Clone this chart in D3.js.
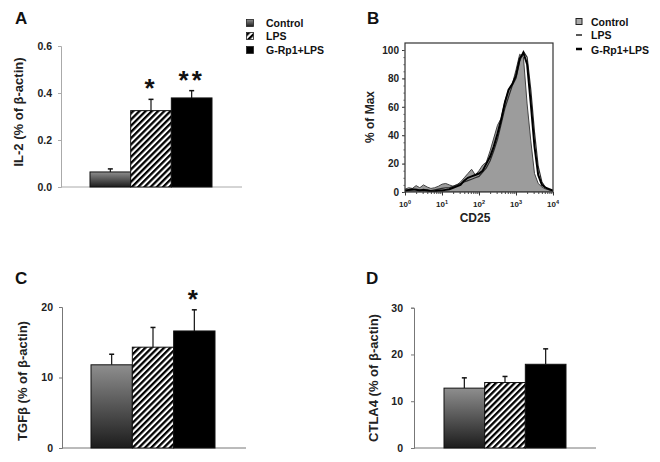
<!DOCTYPE html>
<html><head><meta charset="utf-8">
<script src="https://cdn.jsdelivr.net/npm/d3@7"></script>
<style>
body{margin:0;background:#fff;}
svg{display:block;font-family:"Liberation Sans",Arial,sans-serif;font-weight:bold;}
</style></head>
<body>
<svg id="chart" width="660" height="462"></svg>
<script>
// ---------- data ----------
const groups = ["Control", "LPS", "G-Rp1+LPS"];
const il2Mean = [0.064, 0.325, 0.379];
const il2Err  = [0.013, 0.048, 0.031];
const il2Sig  = ["", "*", "**"];
const il2Ticks = [0, 0.2, 0.4, 0.6];

const tgfMean = [11.8, 14.3, 16.6];
const tgfErr  = [1.5, 2.8, 3.0];
const tgfSig  = ["", "", "*"];
const tgfTicks = [0, 10, 20];

const ctlaMean = [12.8, 14.0, 17.9];
const ctlaErr  = [2.2, 1.3, 3.3];
const ctlaSig  = ["", "", ""];
const ctlaTicks = [0, 10, 20, 30];

// CD25 flow histogram (% of Max) on a shared CD25 channel grid
const cd25 = [1, 1.26, 1.58, 2, 2.51, 3.16, 3.98, 5.01, 6.31, 7.94,
  10, 12.6, 15.8, 20, 25.1, 31.6, 39.8, 50.1, 63.1, 79.4,
  100, 126, 158, 200, 251, 316, 398, 501, 631, 794,
  1000, 1259, 1585, 1995, 2512, 3162, 3981, 5012, 6310, 7943, 10000];
const histControl = [2, 3, 2.5, 4.5, 3, 5, 3.5, 2.5, 3, 4,
  5.5, 6, 5, 4, 5, 7, 10, 13, 16, 12,
  15, 19, 21, 29, 38, 47, 52, 64, 72, 76,
  86, 97, 95, 62, 36, 13, 6, 3.5, 2, 1.5, 1];
const histLPS = [1, 1, 1.5, 2, 1.5, 1, 1.5, 1, 1.5, 2,
  2.5, 3, 3, 4, 5, 6, 7, 8, 9, 10,
  11, 14, 17, 22, 29, 37, 48, 59, 67, 75,
  80, 92, 99, 95, 72, 42, 18, 7, 3, 1.5, 1];
const histGRp1 = [1, 1.5, 2, 1.5, 1, 1.5, 1, 0.5, 0.5, 1,
  1, 1.5, 2, 3, 4, 5, 8, 10, 11, 12,
  13, 15, 20, 25, 32, 41, 51, 63, 72, 76,
  82, 94, 98, 90, 62, 32, 12, 5, 3, 2, 1];
const histYTicks = [0, 20, 40, 60, 80, 100];
const histXTicks = [1, 10, 100, 1000, 10000];
const histXExp = ["0", "1", "2", "3", "4"];

// ---------- setup ----------
const svg = d3.select("#chart");
const defs = svg.append("defs");
const grad = defs.append("linearGradient").attr("id", "gradCtrl")
  .attr("x1", 0).attr("y1", 0).attr("x2", 0).attr("y2", 1);
grad.append("stop").attr("offset", "0%").attr("stop-color", "#8e8e8e");
grad.append("stop").attr("offset", "100%").attr("stop-color", "#1c1c1c");
const hatch = defs.append("pattern").attr("id", "hatch")
  .attr("patternUnits", "userSpaceOnUse").attr("width", 4.4).attr("height", 4.4)
  .attr("patternTransform", "rotate(45)");
hatch.append("rect").attr("width", 4.4).attr("height", 4.4).attr("fill", "#fff");
hatch.append("rect").attr("width", 2.3).attr("height", 4.4).attr("fill", "#000");
const fills = ["url(#gradCtrl)", "url(#hatch)", "#000"];

function barPanel(o) {
  const g = svg.append("g");
  const y = d3.scaleLinear().domain(o.domain).range([o.y0, o.y1]);
  const x = d3.scaleBand().domain(groups).range(o.barRange).paddingInner(0);
  // axes
  const ax = g.append("g").attr("transform", `translate(${o.axX},0)`)
    .call(d3.axisLeft(y).tickValues(o.ticks).tickSize(3).tickPadding(o.pad)
      .tickFormat(o.fmt));
  ax.select(".domain").attr("stroke", o.axColor);
  ax.selectAll(".tick line").attr("stroke", o.axColor);
  ax.selectAll(".tick text").attr("font-size", 10.5).attr("fill", "#222")
    .attr("font-family", "Liberation Sans, Arial, sans-serif").attr("font-weight", "bold");
  g.append("line").attr("x1", o.axX).attr("x2", o.axXEnd)
    .attr("y1", y(0)).attr("y2", y(0)).attr("stroke", o.axColor);
  // error bars
  groups.forEach((k, i) => {
    const cx = x(k) + x.bandwidth() / 2;
    g.append("line").attr("x1", cx).attr("x2", cx)
      .attr("y1", y(o.mean[i])).attr("y2", y(o.mean[i] + o.err[i]))
      .attr("stroke", "#111").attr("stroke-width", 1.2);
    g.append("line").attr("x1", cx - 2.5).attr("x2", cx + 2.5)
      .attr("y1", y(o.mean[i] + o.err[i])).attr("y2", y(o.mean[i] + o.err[i]))
      .attr("stroke", "#111").attr("stroke-width", 1.5);
  });
  // bars
  g.selectAll("rect.bar").data(groups).join("rect").attr("class", "bar")
    .attr("x", k => x(k)).attr("width", x.bandwidth())
    .attr("y", (k, i) => y(o.mean[i]))
    .attr("height", (k, i) => y(0) - y(o.mean[i]))
    .attr("fill", (k, i) => fills[i])
    .attr("stroke", "#111").attr("stroke-width", 1);
  // significance
  groups.forEach((k, i) => {
    if (!o.sig[i]) return;
    g.append("text").attr("x", x(k) + x.bandwidth() / 2)
      .attr("y", y(o.mean[i] + o.err[i]) + o.starDy)
      .attr("text-anchor", "middle").attr("font-size", 26).attr("fill", "#111")
      .attr("letter-spacing", 3)
      .text(o.sig[i]);
  });
  // y title
  g.append("text").attr("transform", `translate(${o.titleX},${o.titleY}) rotate(-90)`)
    .attr("text-anchor", "middle").attr("font-size", 13).attr("fill", "#222")
    .text(o.title);
  // panel letter
  g.append("text").attr("x", o.letterX).attr("y", o.letterY)
    .attr("font-size", 17).attr("fill", "#111").text(o.letter);
}

barPanel({domain: [0, 0.6], y0: 187, y1: 46, barRange: [90, 212], axX: 61, axXEnd: 242,
  ticks: il2Ticks, fmt: d3.format(".1f"), pad: 6, axColor: "#aaa",
  mean: il2Mean, err: il2Err, sig: il2Sig, starDy: -2,
  title: "IL-2 (% of β-actin)", titleX: 23, titleY: 112, letter: "A", letterX: 15, letterY: 24});
barPanel({domain: [0, 20], y0: 448, y1: 307, barRange: [91, 215], axX: 62, axXEnd: 246,
  ticks: tgfTicks, fmt: d3.format("d"), pad: 6, axColor: "#777",
  mean: tgfMean, err: tgfErr, sig: tgfSig, starDy: -2,
  title: "TGFβ (% of β-actin)", titleX: 27, titleY: 381, letter: "C", letterX: 15, letterY: 284});
barPanel({domain: [0, 30], y0: 448, y1: 307.7, barRange: [444, 566], axX: 414, axXEnd: 596,
  ticks: ctlaTicks, fmt: d3.format("d"), pad: 8, axColor: "#777",
  mean: ctlaMean, err: ctlaErr, sig: ctlaSig, starDy: 0,
  title: "CTLA4 (% of β-actin)", titleX: 378, titleY: 378, letter: "D", letterX: 366, letterY: 284});

// legend A
const legA = svg.append("g");
groups.forEach((k, i) => {
  const yy = [19.5, 32.5, 46.5][i];
  legA.append("rect").attr("x", 246.5).attr("y", yy).attr("width", 7).attr("height", 7)
    .attr("fill", fills[i]).attr("stroke", "#222").attr("stroke-width", 0.8);
  legA.append("text").attr("x", 266).attr("y", yy + 7).attr("font-size", 10.5)
    .attr("fill", "#111").text(k);
});

// ---------- panel B: histogram ----------
const gB = svg.append("g");
const xB = d3.scaleLog().domain([1, 10000]).range([405, 553]);
const yB = d3.scaleLinear().domain([0, 100]).range([192, 50]);
const boxTop = 43;
gB.append("clipPath").attr("id", "clipB").append("rect")
  .attr("x", 405).attr("y", boxTop).attr("width", 148).attr("height", 192 - boxTop);
const plot = gB.append("g").attr("clip-path", "url(#clipB)");
const area = d3.area().x((d, i) => xB(cd25[i])).y0(yB(0)).y1(d => yB(d));
const line = d3.line().x((d, i) => xB(cd25[i])).y(d => yB(d));
plot.append("path").datum(histControl).attr("d", area)
  .attr("fill", "#9c9c9c").attr("stroke", "#444").attr("stroke-width", 1);
plot.append("path").datum(histLPS).attr("d", line)
  .attr("fill", "none").attr("stroke", "#2a2a2a").attr("stroke-width", 1.2);
plot.append("path").datum(histGRp1).attr("d", line)
  .attr("fill", "none").attr("stroke", "#000").attr("stroke-width", 2);
gB.append("rect").attr("x", 405).attr("y", boxTop).attr("width", 148)
  .attr("height", 192 - boxTop).attr("fill", "none").attr("stroke", "#333").attr("stroke-width", 1.2);
// x axis
const minorX = [];
[1, 10, 100, 1000].forEach(d => { for (let m = 2; m < 10; m++) minorX.push(d * m); });
const axBx = gB.append("g").attr("transform", "translate(0,192)")
  .call(d3.axisBottom(xB).tickValues(histXTicks).tickSize(3.5).tickPadding(4).tickFormat(() => ""));
axBx.select(".domain").remove();
axBx.selectAll(".tick line").attr("stroke", "#333");
const axBxm = gB.append("g").attr("transform", "translate(0,192)")
  .call(d3.axisBottom(xB).tickValues(minorX).tickSize(2).tickFormat(() => ""));
axBxm.select(".domain").remove();
axBxm.selectAll(".tick line").attr("stroke", "#444");
histXTicks.forEach((v, i) => {
  const t = gB.append("text").attr("x", xB(v)).attr("y", 207).attr("text-anchor", "middle")
    .attr("font-size", 8).attr("fill", "#222");
  t.append("tspan").text("10");
  t.append("tspan").attr("dy", -3).attr("font-size", 5.5).text(histXExp[i]);
});
// y axis
const axBy = gB.append("g").attr("transform", "translate(405,0)")
  .call(d3.axisLeft(yB).tickValues(histYTicks).tickSize(3).tickPadding(3).tickFormat(d3.format("d")));
axBy.select(".domain").remove();
axBy.selectAll(".tick line").attr("stroke", "#333");
axBy.selectAll(".tick text").attr("font-size", 10).attr("fill", "#222")
  .attr("font-family", "Liberation Sans, Arial, sans-serif").attr("font-weight", "bold");
const axBym = gB.append("g").attr("transform", "translate(405,0)")
  .call(d3.axisLeft(yB).tickValues(d3.range(0, 101, 5)).tickSize(1.5).tickFormat(() => ""));
axBym.select(".domain").remove();
axBym.selectAll(".tick line").attr("stroke", "#555");
gB.append("text").attr("transform", "translate(374,117) rotate(-90)").attr("text-anchor", "middle")
  .attr("font-size", 12).attr("fill", "#222").text("% of Max");
gB.append("text").attr("x", 475).attr("y", 222).attr("text-anchor", "middle")
  .attr("font-size", 12).attr("fill", "#222").text("CD25");
gB.append("text").attr("x", 367).attr("y", 24).attr("font-size", 17).attr("fill", "#111").text("B");
// legend B
const legB = svg.append("g");
legB.append("rect").attr("x", 576).attr("y", 18.5).attr("width", 6).attr("height", 6)
  .attr("fill", "#aaa").attr("stroke", "#222").attr("stroke-width", 1);
legB.append("line").attr("x1", 576).attr("x2", 582).attr("y1", 35).attr("y2", 35)
  .attr("stroke", "#222").attr("stroke-width", 1.5);
legB.append("line").attr("x1", 576).attr("x2", 582).attr("y1", 49).attr("y2", 49)
  .attr("stroke", "#000").attr("stroke-width", 2.5);
groups.forEach((k, i) => {
  legB.append("text").attr("x", 591).attr("y", [25.5, 39, 53.5][i]).attr("font-size", 10.5)
    .attr("fill", "#111").text(k);
});
</script>
</body></html>
